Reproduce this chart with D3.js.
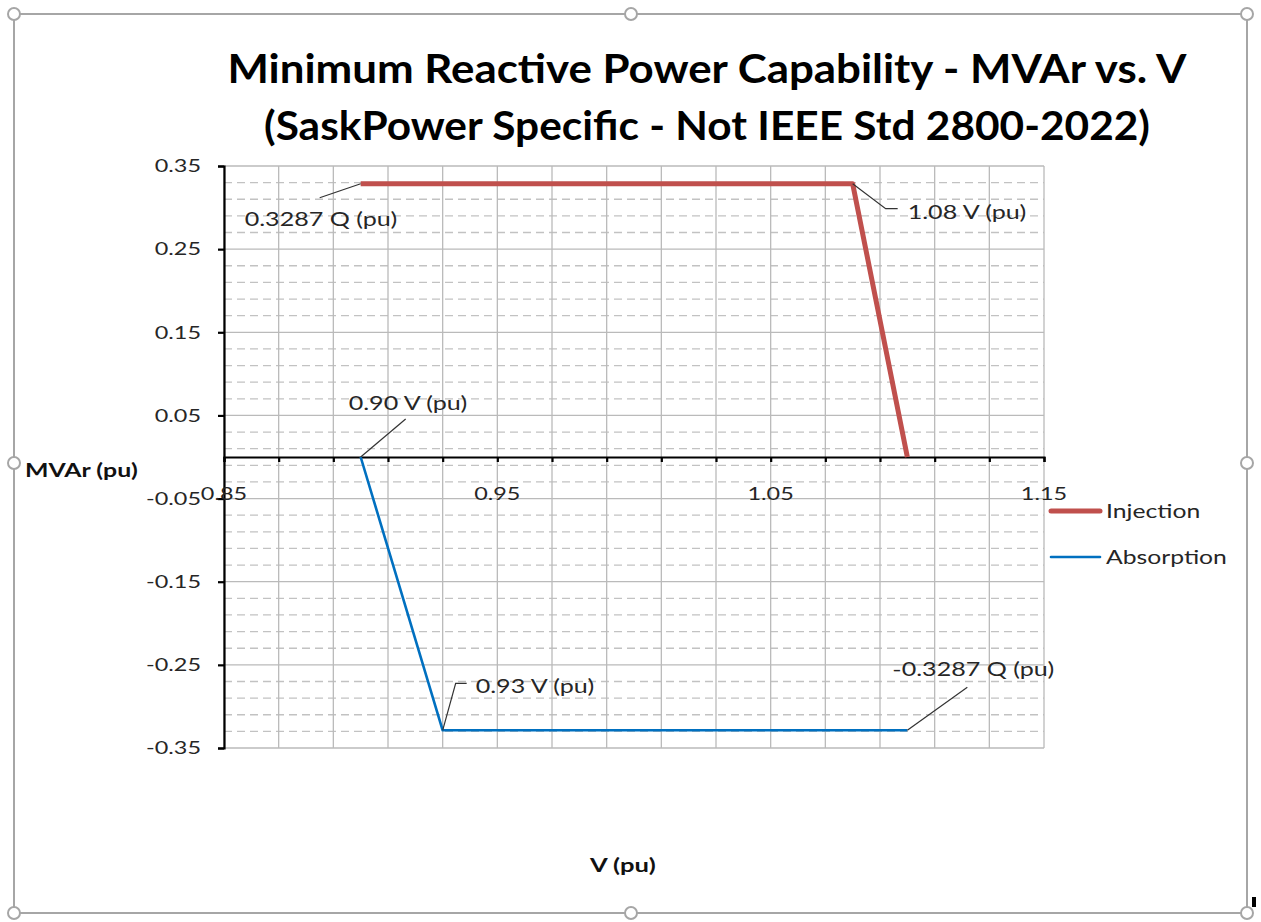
<!DOCTYPE html>
<html>
<head>
<meta charset="utf-8">
<script src="https://cdn.jsdelivr.net/npm/d3@7"></script>
<style>
  body { margin: 0; background: #fff; }
  svg { display: block; font-family: Lato, "Open Sans", sans-serif; }
</style>
</head>
<body>
<script>
  // series values
  const injectionV = [0.90, 1.08, 1.10];
  const injectionQ = [0.3287, 0.3287, 0];
  const absorptionV = [0.90, 0.93, 1.10];
  const absorptionQ = [0, -0.3287, -0.3287];

  const yTicks = [0.35, 0.25, 0.15, 0.05, -0.05, -0.15, -0.25, -0.35];
  const xLabelTicks = [0.85, 0.95, 1.05, 1.15];
  const xMinorStep = 0.02;

  const seriesNames = ['Injection', 'Absorption'];
  const titleLines = [
    'Minimum Reactive Power Capability - MVAr vs. V',
    '(SaskPower Specific - Not IEEE Std 2800-2022)'
  ];

  // data labels: which series / point, and the text
  const labelSeries = ['Injection', 'Injection', 'Absorption', 'Absorption', 'Absorption'];
  const labelIndex = [0, 1, 0, 1, 2];
  const labelText = ['0.3287 Q (pu)', '1.08 V (pu)', '0.90 V (pu)', '0.93 V (pu)', '-0.3287 Q (pu)'];

  const width = 1261;
  const height = 922;
  const plot = { left: 224, right: 1044, top: 166, bottom: 748 };
  const textColor = '#262626';
  const fmt = (d) => d.toFixed(2); // plain hyphen for negatives, like Excel

  // the reference text is rendered wider than Lato, so stretch it a bit
  const stretch = (sel, k) => sel.each(function () {
    const w = this.getComputedTextLength();
    d3.select(this)
      .attr('textLength', w * k)
      .attr('lengthAdjust', 'spacingAndGlyphs');
  });

  const series = [
    { name: seriesNames[0], color: '#C0504D', width: 5,
      points: injectionV.map((v, i) => ({ v, q: injectionQ[i] })) },
    { name: seriesNames[1], color: '#0070C0', width: 2.6,
      points: absorptionV.map((v, i) => ({ v, q: absorptionQ[i] })) }
  ];

  const x = d3.scaleLinear().domain([0.85, 1.15]).range([plot.left, plot.right]);
  const y = d3.scaleLinear().domain([-0.35, 0.35]).range([plot.bottom, plot.top]);

  const svg = d3.select('body').append('svg')
    .attr('width', width)
    .attr('height', height);

  // gridlines
  const xGrid = d3.range(0, 16).map((k) => 0.85 + k * xMinorStep);
  const yMinor = d3.range(0, 36).map((k) => 0.35 - k * 0.02)
    .filter((_, k) => k % 5 !== 0);

  const grid = svg.append('g');
  grid.selectAll('line.ymin')
    .data(yMinor)
    .join('line')
    .attr('x1', plot.left).attr('x2', plot.right)
    .attr('y1', (d) => y(d)).attr('y2', (d) => y(d))
    .attr('stroke', '#c2c2c2').attr('stroke-width', 1.3)
    .attr('stroke-dasharray', '8,5');
  grid.selectAll('line.x')
    .data(xGrid)
    .join('line')
    .attr('x1', (d) => x(d)).attr('x2', (d) => x(d))
    .attr('y1', plot.top).attr('y2', plot.bottom)
    .attr('stroke', '#bababa').attr('stroke-width', 1.3);
  grid.selectAll('line.ymaj')
    .data(yTicks)
    .join('line')
    .attr('x1', plot.left).attr('x2', plot.right)
    .attr('y1', (d) => y(d)).attr('y2', (d) => y(d))
    .attr('stroke', '#bababa').attr('stroke-width', 1.3);

  // y axis
  const yAxis = svg.append('g')
    .attr('transform', `translate(${plot.left},0)`)
    .call(d3.axisLeft(y).tickValues(yTicks).tickSize(6).tickPadding(17)
      .tickFormat(fmt));
  yAxis.select('.domain').attr('stroke', '#000').attr('stroke-width', 2.2);
  yAxis.selectAll('.tick line').attr('stroke', '#000').attr('stroke-width', 2.2);
  yAxis.selectAll('text')
    .attr('font-size', 18).attr('fill', textColor)
    .attr('font-family', 'Lato, sans-serif')
    .call(stretch, 1.3);

  // x axis crossing at zero
  const xAxis = svg.append('g')
    .attr('transform', `translate(0,${y(0)})`)
    .call(d3.axisBottom(x).tickValues(xGrid).tickSize(5).tickFormat(''));
  xAxis.select('.domain').attr('stroke', '#000').attr('stroke-width', 2.2);
  xAxis.selectAll('.tick line').attr('stroke', '#000').attr('stroke-width', 2.2);
  svg.append('g').selectAll('text')
    .data(xLabelTicks)
    .join('text')
    .attr('x', (d) => x(d))
    .attr('y', y(0) + 43)
    .attr('text-anchor', 'middle')
    .attr('font-size', 18).attr('fill', textColor)
    .text(fmt)
    .call(stretch, 1.3);

  // series lines
  const line = d3.line().x((d) => x(d.v)).y((d) => y(d.q));
  svg.append('g').selectAll('path')
    .data(series)
    .join('path')
    .attr('d', (d) => line(d.points))
    .attr('fill', 'none')
    .attr('stroke', (d) => d.color)
    .attr('stroke-width', (d) => d.width)
    .attr('stroke-linejoin', 'round');

  // data labels with leader lines (offsets in px from the point)
  const labelLayout = [
    { leader: [[-41, 14]], tx: -116, ty: 42 },
    { leader: [[33, 25], [45, 25]], tx: 55, ty: 35 },
    { leader: [[45, -38]], tx: -12, ty: -47 },
    { leader: [[13, -47], [24, -47]], tx: 33, ty: -37 },
    { leader: [[60, -43]], tx: -15, ty: -54 }
  ];
  const labels = svg.append('g');
  labelText.forEach((txt, i) => {
    const s = series.find((d) => d.name === labelSeries[i]);
    const p = s.points[labelIndex[i]];
    const px = x(p.v);
    const py = y(p.q);
    const lay = labelLayout[i];
    const pts = [[px, py]].concat(lay.leader.map(([dx, dy]) => [px + dx, py + dy]));
    labels.append('path')
      .attr('d', d3.line()(pts))
      .attr('fill', 'none')
      .attr('stroke', '#333')
      .attr('stroke-width', 1.2);
    labels.append('text')
      .attr('x', px + lay.tx)
      .attr('y', py + lay.ty)
      .attr('font-size', 19)
      .attr('fill', textColor)
      .text(txt)
      .call(stretch, 1.32);
  });

  // legend
  const legend = svg.append('g').attr('transform', 'translate(1049,511)');
  legend.selectAll('g')
    .data(series)
    .join('g')
    .attr('transform', (d, i) => `translate(0,${i * 46})`)
    .each(function (d) {
      const g = d3.select(this);
      g.append('line')
        .attr('x1', 2).attr('x2', 51)
        .attr('stroke', d.color)
        .attr('stroke-width', d.width)
        .attr('stroke-linecap', 'round');
      g.append('text')
        .attr('x', 57).attr('y', 7)
        .attr('font-size', 19).attr('fill', textColor)
        .text(d.name)
        .call(stretch, 1.3);
    });

  // titles, each line stretched to the width it has in the picture
  const titleWidths = [959, 886];
  svg.append('g').selectAll('text')
    .data(titleLines)
    .join('text')
    .attr('x', 707)
    .attr('y', (d, i) => 83 + i * 57)
    .attr('text-anchor', 'middle')
    .attr('font-size', 40)
    .attr('font-weight', 'bold')
    .attr('fill', '#000')
    .text((d) => d)
    .attr('textLength', (d, i) => titleWidths[i])
    .attr('lengthAdjust', 'spacingAndGlyphs');

  svg.append('text')
    .attr('x', 25).attr('y', 477)
    .attr('font-size', 18).attr('font-weight', 'bold')
    .attr('fill', '#111')
    .text('MVAr (pu)')
    .call(stretch, 1.38);
  svg.append('text')
    .attr('x', 590).attr('y', 872)
    .attr('font-size', 18).attr('font-weight', 'bold')
    .attr('fill', '#111')
    .text('V (pu)')
    .call(stretch, 1.42);

  // selection frame with handles around the chart object
  const frame = { l: 14, r: 1247, t: 14, b: 913 };
  svg.append('rect')
    .attr('x', frame.l).attr('y', frame.t)
    .attr('width', frame.r - frame.l).attr('height', frame.b - frame.t)
    .attr('fill', 'none').attr('stroke', '#a6a6a6').attr('stroke-width', 2);
  const mx = 631;
  const my = 463;
  const handles = [[frame.l, frame.t], [mx, frame.t], [frame.r, frame.t],
    [frame.l, my], [frame.r, my],
    [frame.l, frame.b], [mx, frame.b], [frame.r, frame.b]];
  svg.append('g').selectAll('circle')
    .data(handles)
    .join('circle')
    .attr('cx', (d) => d[0]).attr('cy', (d) => d[1])
    .attr('r', 6)
    .attr('fill', '#fff').attr('stroke', '#a6a6a6').attr('stroke-width', 2);
  svg.append('rect')
    .attr('x', 1252).attr('y', 897)
    .attr('width', 4).attr('height', 10)
    .attr('fill', '#000');
</script>
</body>
</html>
